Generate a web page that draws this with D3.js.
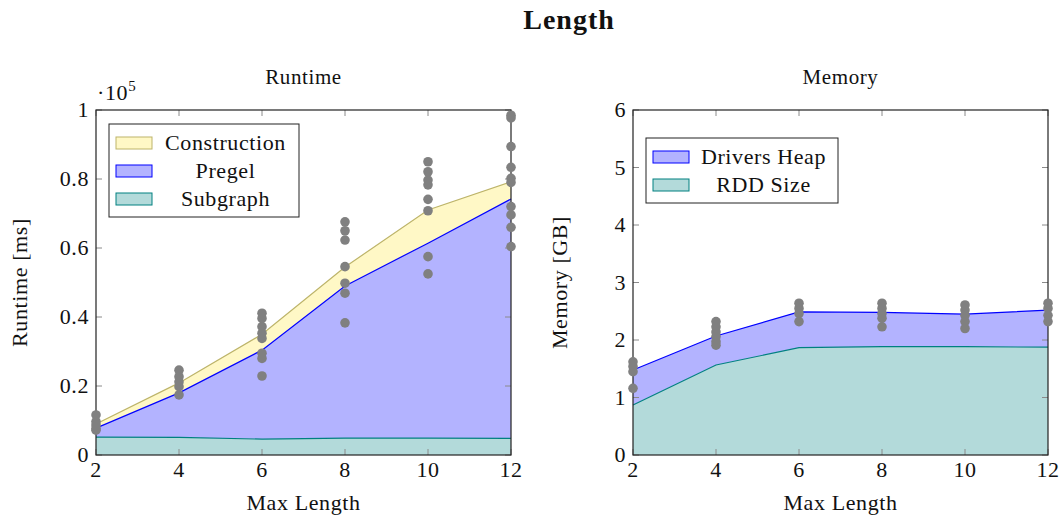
<!DOCTYPE html>
<html>
<head>
<meta charset="utf-8">
<script src="https://cdn.jsdelivr.net/npm/d3@7"></script>
<style>
body { margin: 0; background: #fff; }
svg text { font-family: "Liberation Serif", "DejaVu Serif", serif; fill: #111; letter-spacing: 0.6px; }
.axis-tick { stroke: #8a8a8a; stroke-width: 1; }
</style>
</head>
<body>
<script>
var lengths = [2, 4, 6, 8, 10, 12];

// runtime components (ms), stacked bottom to top
var subgraph = [5200, 5100, 4600, 4900, 4900, 4800];
var pregel = [2600, 12900, 25800, 44100, 56500, 69400];
var construction = [1200, 2900, 4600, 5500, 9600, 5000];

// measured runtime points (ms)
var runtimeRuns = [
    [2, [11600, 9700, 8700, 7700, 7200]],
    [4, [24600, 22700, 21200, 19800, 17400]],
    [6, [41100, 39600, 37200, 35300, 33800, 29500, 28000, 22900]],
    [8, [67600, 65000, 62300, 54600, 49800, 46900, 38300]],
    [10, [85000, 82100, 79700, 78300, 74100, 70800, 57500, 52500]],
    [12, [98500, 97700, 89400, 83400, 80200, 79000, 72000, 69600, 66000, 60400]]
];

// memory components (GB)
var rddSize = [0.87, 1.565, 1.866, 1.884, 1.884, 1.875];
var driversHeap = [0.608, 0.505, 0.624, 0.596, 0.566, 0.645];

var memoryRuns = [
    [2, [1.62, 1.54, 1.45, 1.16]],
    [4, [2.32, 2.23, 2.14, 2.06, 1.97, 1.91]],
    [6, [2.64, 2.55, 2.46, 2.32]],
    [8, [2.64, 2.55, 2.46, 2.38, 2.23]],
    [10, [2.61, 2.52, 2.43, 2.32, 2.2]],
    [12, [2.64, 2.55, 2.43, 2.32]]
];

var runtimeTicks = [0, 20000, 40000, 60000, 80000, 100000];
var memoryTicks = [0, 1, 2, 3, 4, 5, 6];

var W = 1062, H = 518;
var svg = d3.select("body").append("svg")
    .attr("width", W)
    .attr("height", H);

svg.append("text")
    .attr("x", 569)
    .attr("y", 29)
    .attr("text-anchor", "middle")
    .style("font-weight", "bold")
    .style("font-size", "28px")
    .style("letter-spacing", "1px")
    .text("Length");

function drawPanel(opt) {
    var width = 415, height = 345;
    var g = svg.append("g")
        .attr("transform", "translate(" + opt.left + "," + opt.top + ")");

    var x = d3.scaleLinear().domain([2, 12]).range([0, width]);
    var y = d3.scaleLinear().domain(opt.yDomain).range([height, 0]);

    var rows = lengths.map(function(l, i) {
        var r = {len: l};
        opt.series.forEach(function(s) { r[s.name] = s.values[i]; });
        return r;
    });
    var stacked = d3.stack().keys(opt.series.map(function(s) { return s.name; }))(rows);

    var area = d3.area()
        .x(function(d) { return x(d.data.len); })
        .y0(function(d) { return y(d[0]); })
        .y1(function(d) { return y(d[1]); });
    var topLine = d3.line()
        .x(function(d) { return x(d.data.len); })
        .y(function(d) { return y(d[1]); });

    g.selectAll(".layer")
        .data(stacked)
        .enter()
        .append("path")
        .attr("d", area)
        .attr("fill", function(d, i) { return opt.series[i].fill; });

    g.selectAll(".edge")
        .data(stacked)
        .enter()
        .append("path")
        .attr("d", topLine)
        .attr("fill", "none")
        .attr("stroke-width", 1.2)
        .attr("stroke", function(d, i) { return opt.series[i].stroke; });

    // ticks, inside on all four sides
    var xt = g.append("g");
    lengths.forEach(function(v) {
        xt.append("line").attr("class", "axis-tick")
            .attr("x1", x(v)).attr("x2", x(v)).attr("y1", height).attr("y2", height - 6);
        xt.append("line").attr("class", "axis-tick")
            .attr("x1", x(v)).attr("x2", x(v)).attr("y1", 0).attr("y2", 6);
        xt.append("text")
            .attr("x", x(v))
            .attr("y", height + 22)
            .attr("text-anchor", "middle")
            .style("font-size", "22px")
            .text(v);
    });
    opt.ticks.forEach(function(v) {
        xt.append("line").attr("class", "axis-tick")
            .attr("x1", 0).attr("x2", 6).attr("y1", y(v)).attr("y2", y(v));
        xt.append("line").attr("class", "axis-tick")
            .attr("x1", width).attr("x2", width - 6).attr("y1", y(v)).attr("y2", y(v));
        xt.append("text")
            .attr("x", -7)
            .attr("y", y(v) + 7)
            .attr("text-anchor", "end")
            .style("font-size", "22px")
            .text(opt.tickFormat(v));
    });

    g.append("rect")
        .attr("width", width)
        .attr("height", height)
        .attr("fill", "none")
        .attr("stroke", "#222")
        .attr("stroke-width", 1.2);

    // measurement dots
    var pts = [];
    opt.runs.forEach(function(r) {
        r[1].forEach(function(v) { pts.push({len: r[0], v: v}); });
    });
    g.selectAll(".dot")
        .data(pts)
        .enter()
        .append("circle")
        .attr("cx", function(d) { return x(d.len); })
        .attr("cy", function(d) { return y(d.v); })
        .attr("r", 4.8)
        .attr("fill", "#808080");

    g.append("text")
        .attr("x", width / 2)
        .attr("y", -26)
        .attr("text-anchor", "middle")
        .style("font-size", "21px")
        .text(opt.title);

    g.append("text")
        .attr("x", width / 2)
        .attr("y", height + 55)
        .attr("text-anchor", "middle")
        .style("font-size", "22px")
        .text("Max Length");

    g.append("text")
        .attr("transform", "rotate(-90)")
        .attr("x", -height / 2)
        .attr("y", opt.ylabelX)
        .attr("text-anchor", "middle")
        .style("font-size", "22px")
        .text(opt.ylabel);

    // legend
    var lg = g.append("g")
        .attr("transform", "translate(" + opt.legend.x + "," + opt.legend.y + ")");
    var items = opt.series.slice().reverse();
    lg.append("rect")
        .attr("width", opt.legend.w)
        .attr("height", items.length * 28 + 9)
        .attr("fill", "#fff")
        .attr("stroke", "#222")
        .attr("stroke-width", 1);
    items.forEach(function(s, i) {
        lg.append("rect")
            .attr("x", 7)
            .attr("y", 13 + i * 28)
            .attr("width", 36)
            .attr("height", 12)
            .attr("fill", s.fill)
            .attr("stroke", s.stroke)
            .attr("stroke-width", 1);
        lg.append("text")
            .attr("x", 43 + (opt.legend.w - 43) / 2)
            .attr("y", 26 + i * 28)
            .attr("text-anchor", "middle")
            .style("font-size", "22px")
            .text(s.name);
    });
    return g;
}

var left = drawPanel({
    left: 96, top: 110,
    yDomain: [0, 100000],
    ticks: runtimeTicks,
    tickFormat: function(v) { return v === 0 ? "0" : v === 100000 ? "1" : d3.format(".1f")(v / 100000); },
    series: [
        {name: "Subgraph", values: subgraph, fill: "#b3dada", stroke: "#008080"},
        {name: "Pregel", values: pregel, fill: "#b3b3ff", stroke: "#0000ff"},
        {name: "Construction", values: construction, fill: "#fff8c6", stroke: "#bdb46a"}
    ],
    runs: runtimeRuns,
    title: "Runtime",
    ylabel: "Runtime [ms]",
    ylabelX: -69,
    legend: {x: 13, y: 14, w: 190}
});

left.append("text")
    .attr("x", 1)
    .attr("y", -10)
    .style("font-size", "22px")
    .text("\u00b710")
    .append("tspan")
    .attr("dy", -9)
    .style("font-size", "15px")
    .text("5");

drawPanel({
    left: 633, top: 110,
    yDomain: [0, 6],
    ticks: memoryTicks,
    tickFormat: function(v) { return v; },
    series: [
        {name: "RDD Size", values: rddSize, fill: "#b3dada", stroke: "#008080"},
        {name: "Drivers Heap", values: driversHeap, fill: "#b3b3ff", stroke: "#0000ff"}
    ],
    runs: memoryRuns,
    title: "Memory",
    ylabel: "Memory [GB]",
    ylabelX: -66,
    legend: {x: 13, y: 28, w: 192}
});
</script>
</body>
</html>
